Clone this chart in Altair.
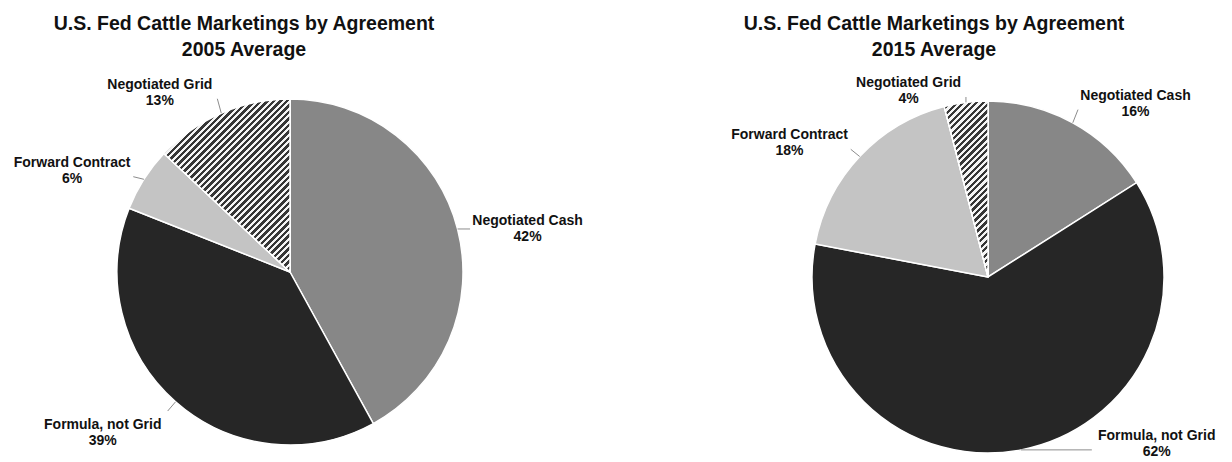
import math
import altair as alt
import pandas as pd

# ---------------- data ----------------
categories = ["Negotiated Cash", "Formula, not Grid", "Forward Contract", "Negotiated Grid"]
share_2005 = [42, 39, 6, 13]
share_2015 = [16, 62, 18, 4]
titles_2005 = ["U.S. Fed Cattle Marketings by Agreement", "2005 Average"]
titles_2015 = ["U.S. Fed Cattle Marketings by Agreement", "2015 Average"]

# ---------------- style ----------------
FONT = "Liberation Sans"
GRAYS = ["#878787", "#262626", "#c4c4c4", "#9a9a9a"]
PANEL_W, PANEL_H = 590, 380
SPACING = 10
LABEL_SIZE = 14
CHAR_W = 7.4
GAP = 15
BLOCK_H = 32


def slice_bbox(values, idx, radius):
    """Bounding box (w, h) of a pie slice starting at 12 o'clock, clockwise."""
    total = sum(values)
    a0 = 2 * math.pi * sum(values[:idx]) / total
    a1 = 2 * math.pi * sum(values[: idx + 1]) / total
    pts = [(0.0, 0.0)]
    angs = [a0, a1] + [k * math.pi / 2 for k in range(5) if a0 < k * math.pi / 2 < a1]
    for a in angs:
        pts.append((radius * math.sin(a), -radius * math.cos(a)))
    xs = [p[0] for p in pts]
    ys = [p[1] for p in pts]
    return max(xs) - min(xs), max(ys) - min(ys)


def stripe_fill(w, h, period, dark="#363636", light="#f4f4f4"):
    k = (w + h) / (w * w + h * h)
    n = max(2, round((w + h) / math.sqrt(2) / period))
    stops = []
    for i in range(n):
        a, b, c = i / n, (i + 0.5) / n, (i + 1) / n
        stops += [
            {"offset": a, "color": dark},
            {"offset": b, "color": dark},
            {"offset": b, "color": light},
            {"offset": c, "color": light},
        ]
    return {"gradient": "linear", "x1": 0, "y1": 0, "x2": k * w, "y2": k * h, "stops": stops}


def pie_panel(values, title_lines, cx, cy, radius, title_dx):
    df = pd.DataFrame({"name": categories, "share": values, "order": list(range(len(categories)))})
    base = (
        alt.Chart(df)
        .transform_window(cum="sum(share)", sort=[alt.SortField("order")], frame=[None, 0])
        .transform_calculate(start="datum.cum - datum.share")
    )
    theta_scale = alt.Scale(domain=[0, 100], range=[0, 2 * math.pi])

    arcs = base.mark_arc(radius=radius, stroke="white", strokeWidth=1.5).encode(
        theta=alt.Theta("start:Q", scale=theta_scale),
        theta2="cum:Q",
        color=alt.Color("name:N", scale=alt.Scale(domain=categories, range=GRAYS), legend=None),
        x=alt.value(cx),
        y=alt.value(cy),
    )

    gi = categories.index("Negotiated Grid")
    bw, bh = slice_bbox(values, gi, radius)
    grid = (
        base.transform_filter(alt.datum.name == "Negotiated Grid")
        .mark_arc(radius=radius, stroke="white", strokeWidth=1.5, fill=stripe_fill(bw, bh, 4.6))
        .encode(
            theta=alt.Theta("start:Q", scale=theta_scale),
            theta2="cum:Q",
            x=alt.value(cx),
            y=alt.value(cy),
        )
    )

    R = radius
    geo = base.transform_calculate(
        mid="(datum.start + datum.share / 2) / 100 * 2 * PI",
    ).transform_calculate(
        sa="sin(datum.mid)",
        ca="cos(datum.mid)",
        sg="sin(datum.mid) >= 0 ? 1 : -1",
        w=f"length(datum.name) * {CHAR_W}",
        txt="datum.name + '|' + datum.share + '%'",
    ).transform_calculate(
        ex=f"{cx} + {R} * datum.sa",
        ey=f"{cy} - {R} * datum.ca",
        gy=f"{cy} - ({R} + {GAP}) * datum.ca - datum.ca * {BLOCK_H} / 2",
        gx=f"{cx} + ({R} + {GAP}) * datum.sa + datum.sg * datum.w / 2",
    ).transform_calculate(
        yc=f"clamp(datum.gy, {cy - R - 18}, {cy + R - 17})",
    ).transform_calculate(
        xc=(
            f"datum.yc == datum.gy ? datum.gx : "
            f"{cx} + datum.sg * (max(sqrt(max(0, pow({R} + {GAP}, 2) - pow(datum.yc - {cy}, 2))), "
            f"({R} + {GAP}) * abs(datum.sa)) + datum.w / 2)"
        ),
    ).transform_calculate(
        lx="clamp(datum.ex, datum.xc - datum.w / 2 - 2, datum.xc + datum.w / 2 + 2)",
        ly=f"clamp(datum.ey, datum.yc - {BLOCK_H} / 2 + 2, datum.yc + {BLOCK_H} / 2 - 2)",
    )

    leaders = geo.mark_rule(color="#8c8c8c", strokeWidth=1).encode(
        x=alt.X("ex:Q", scale=None, axis=None),
        y=alt.Y("ey:Q", scale=None, axis=None),
        x2="lx:Q",
        y2="ly:Q",
    )
    labels = geo.mark_text(
        font=FONT,
        fontSize=LABEL_SIZE,
        fontWeight="bold",
        color="#111111",
        align="center",
        baseline="middle",
        lineBreak="|",
        lineHeight=16,
    ).encode(
        x=alt.X("xc:Q", scale=None, axis=None),
        y=alt.Y("yc:Q", scale=None, axis=None),
        text="txt:N",
    )

    return alt.layer(arcs, grid, leaders, labels).properties(
        width=PANEL_W,
        height=PANEL_H,
        view=alt.ViewBackground(stroke="transparent", strokeWidth=0),
        title=alt.TitleParams(
            title_lines,
            font=FONT,
            fontSize=19.5,
            fontWeight="bold",
            color="#111111",
            anchor="middle",
            dx=title_dx,
            lineHeight=26,
            offset=6,
        ),
    )


# page-to-view offsets: body margin 8 + padding 5
ORIGIN_L = 13
ORIGIN_R = 13 + PANEL_W + SPACING
VIEW_TOP = 67

left = pie_panel(share_2005, titles_2005, 290 - ORIGIN_L, 273 - VIEW_TOP, 173, 244 - (ORIGIN_L + PANEL_W / 2))
right = pie_panel(share_2015, titles_2015, 988 - ORIGIN_R, 278 - VIEW_TOP, 176, 934 - (ORIGIN_R + PANEL_W / 2))

chart = (
    alt.hconcat(left, right, spacing=SPACING)
    .configure_view(strokeWidth=0, stroke="transparent")
    .configure(font=FONT, background="white")
)

chart.save("out.html", embed_options={"renderer": "svg", "actions": False})
